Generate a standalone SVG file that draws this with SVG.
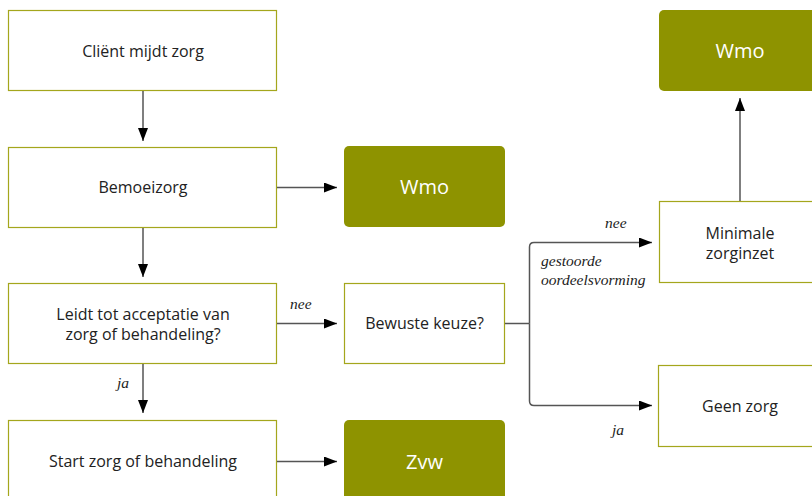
<svg xmlns="http://www.w3.org/2000/svg" width="812" height="496" viewBox="0 0 812 496">
  <defs>
    <marker id="arrow" viewBox="0 0 13 10" refX="13" refY="5" markerWidth="13" markerHeight="10" markerUnits="userSpaceOnUse" orient="auto">
      <path d="M0,0 L13,5 L0,10 z" fill="#000"/>
    </marker>
  </defs>
  <style>
    .box { fill: #fff; stroke: #a4a61c; stroke-width: 1.2; }
    .solid { fill: #8e9300; stroke: none; }
    .label { font-family: "Open Sans", "Noto Sans", sans-serif; font-size: 16px; fill: #222; text-anchor: middle; }
    .big { font-family: "Open Sans", "Noto Sans", sans-serif; font-size: 20px; fill: #fff; text-anchor: middle; }
    .edge { font-family: "Liberation Serif", serif; font-style: italic; font-size: 15.5px; fill: #222; }
    .line { fill: none; stroke: #555; stroke-width: 1.5; }
  </style>

  <g id="n-client">
    <rect class="box" x="8.5" y="10.5" width="268" height="80"/>
    <text class="label" x="143" y="57">Cliënt mijdt zorg</text>
  </g>
  <g id="n-bemoeizorg">
    <rect class="box" x="8.5" y="147.5" width="268" height="80"/>
    <text class="label" x="143" y="193">Bemoeizorg</text>
  </g>
  <g id="n-acceptatie">
    <rect class="box" x="8.5" y="283.5" width="268" height="80"/>
    <text class="label" x="143" y="320">Leidt tot acceptatie van</text>
    <text class="label" x="143" y="340">zorg of behandeling?</text>
  </g>
  <g id="n-start">
    <rect class="box" x="8.5" y="420.5" width="268" height="90"/>
    <text class="label" x="143" y="467">Start zorg of behandeling</text>
  </g>
  <g id="n-wmo1">
    <rect class="solid" x="344" y="146" width="161" height="81" rx="5"/>
    <text class="big" x="424.5" y="194">Wmo</text>
  </g>
  <g id="n-bewust">
    <rect class="box" x="344.5" y="283.5" width="160" height="80"/>
    <text class="label" x="424.5" y="329">Bewuste keuze?</text>
  </g>
  <g id="n-zvw">
    <rect class="solid" x="344" y="420" width="161" height="90" rx="5"/>
    <text class="big" x="424.5" y="469">Zvw</text>
  </g>
  <g id="n-wmo2">
    <rect class="solid" x="659" y="10" width="170" height="81" rx="5"/>
    <text class="big" x="740" y="58">Wmo</text>
  </g>
  <g id="n-minimaal">
    <rect class="box" x="659.5" y="201.5" width="170" height="81"/>
    <text class="label" x="740" y="239">Minimale</text>
    <text class="label" x="740" y="259">zorginzet</text>
  </g>
  <g id="n-geen">
    <rect class="box" x="658.5" y="365.5" width="170" height="81"/>
    <text class="label" x="740" y="412">Geen zorg</text>
  </g>

  <g id="connectors">
    <line class="line" x1="143" y1="91" x2="143" y2="141" marker-end="url(#arrow)"/>
    <line class="line" x1="277" y1="187.5" x2="337" y2="187.5" marker-end="url(#arrow)"/>
    <line class="line" x1="143" y1="228" x2="143" y2="277" marker-end="url(#arrow)"/>
    <line class="line" x1="277" y1="323.5" x2="337" y2="323.5" marker-end="url(#arrow)"/>
    <line class="line" x1="143" y1="364" x2="143" y2="413" marker-end="url(#arrow)"/>
    <line class="line" x1="277" y1="461.5" x2="337" y2="461.5" marker-end="url(#arrow)"/>
    <path class="line" d="M505,323.5 H529.5"/>
    <path class="line" d="M529.5,323.5 V247 Q529.5,242.5 534,242.5 H652" marker-end="url(#arrow)"/>
    <path class="line" d="M529.5,323.5 V401 Q529.5,405.5 534,405.5 H652" marker-end="url(#arrow)"/>
    <line class="line" x1="740" y1="201" x2="740" y2="98" marker-end="url(#arrow)"/>
  </g>

  <g id="edge-labels">
    <text class="edge" x="290" y="309">nee</text>
    <text class="edge" x="117" y="388">ja</text>
    <text class="edge" x="605" y="228">nee</text>
    <text class="edge" x="541" y="266">gestoorde</text>
    <text class="edge" x="541" y="285">oordeelsvorming</text>
    <text class="edge" x="612" y="435">ja</text>
  </g>
</svg>
